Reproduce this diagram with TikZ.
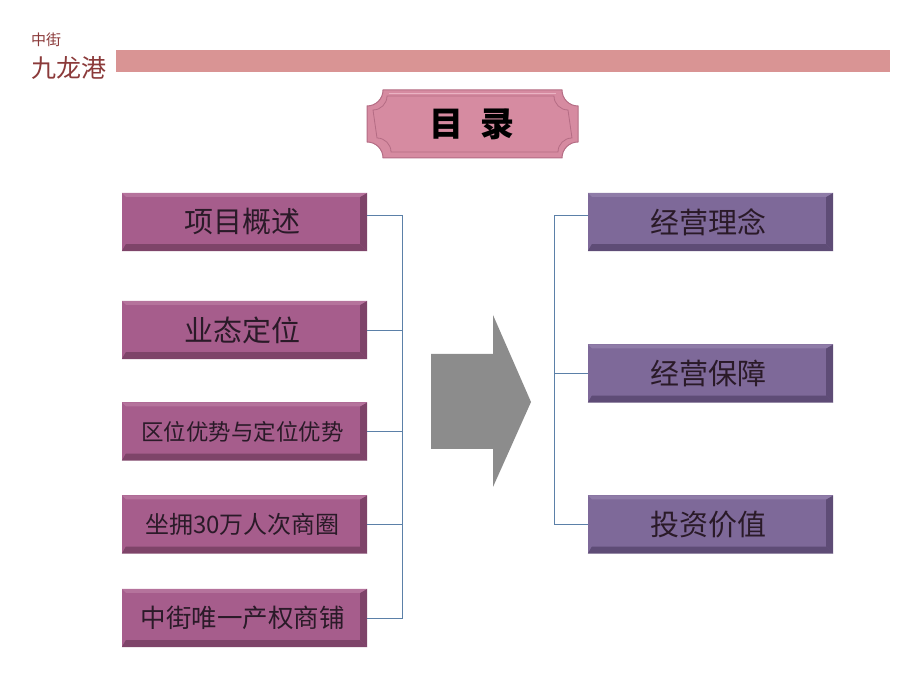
\documentclass[tikz,border=0pt]{standalone}
\usepackage{fontspec}
\setmainfont{Noto Sans CJK SC}
\newfontfamily\cjk{Noto Sans CJK SC}
\definecolor{barpink}{HTML}{D99494}
\definecolor{hdred}{HTML}{8B3A3A}
\definecolor{leftbox}{HTML}{A65D8C}
\definecolor{leftdark}{HTML}{7E4469}
\definecolor{leftlight}{HTML}{B5739C}
\definecolor{rightbox}{HTML}{7E6999}
\definecolor{rightdark}{HTML}{5E4C76}
\definecolor{rightlight}{HTML}{8F7CA8}
\definecolor{boxtext}{HTML}{2A1A28}
\definecolor{connblue}{HTML}{5B80A8}
\definecolor{arrowgray}{HTML}{8C8C8C}
\definecolor{plaque}{HTML}{D68BA1}
\definecolor{plaqueedge}{HTML}{B46C84}
\definecolor{plaquelight}{HTML}{EAB3C3}
\tikzset{
  boxbase/.style={minimum width=245pt, minimum height=58pt, inner sep=0pt, text=boxtext, font=\cjk},
  lbox/.style={boxbase, fill=leftbox},
  rbox/.style={boxbase, fill=rightbox},
  conn/.style={draw=connblue, line width=0.8pt},
  big/.style={font=\cjk\fontsize{29}{29}\selectfont},
}
\newcommand{\bevel}[3]{%
  \fill[#2] (#1.north east) -- ([xshift=-7pt,yshift=-4pt]#1.north east) -- ([xshift=-7pt,yshift=7pt]#1.south east) -- (#1.south east) -- cycle;
  \fill[#2] (#1.south west) -- ([xshift=4pt,yshift=7pt]#1.south west) -- ([xshift=-7pt,yshift=7pt]#1.south east) -- (#1.south east) -- cycle;
  \fill[#3] (#1.north west) -- ([xshift=4pt,yshift=-4pt]#1.north west) -- ([xshift=-7pt,yshift=-4pt]#1.north east) -- (#1.north east) -- cycle;
}
\begin{document}
\begin{tikzpicture}[x=1pt,y=1pt]
\useasboundingbox (0,0) rectangle (920,690);
% header
\node[anchor=west, inner sep=0pt, text=hdred, font=\cjk\fontsize{15}{15}\selectfont] (hd1) at (31,650) {中街};
\node[anchor=west, inner sep=0pt, text=hdred, font=\cjk\fontsize{25}{25}\selectfont] (hd2) at (31,622) {九龙港};
\fill[barpink] (116,618) rectangle (890,640);
% title plaque
\path[fill=plaque, draw=plaqueedge, line width=1pt]
  (383,600) -- (562,600) arc[start angle=180, end angle=270, radius=16]
  -- (578,548) arc[start angle=90, end angle=180, radius=16]
  -- (383,532) arc[start angle=0, end angle=90, radius=16]
  -- (367,584) arc[start angle=270, end angle=360, radius=16] -- cycle;
\path[draw=plaqueedge, line width=0.8pt]
  (391,594) -- (554,594) arc[start angle=180, end angle=270, radius=14]
  -- (572,552) arc[start angle=90, end angle=180, radius=14]
  -- (391,538) arc[start angle=0, end angle=90, radius=14]
  -- (373,580) arc[start angle=270, end angle=360, radius=14] -- cycle;
\path[draw=plaquelight, line width=0.8pt]
  (389,597) -- (556,597);
\node[font=\cjk\bfseries\fontsize{34}{34}\selectfont, text=black, inner sep=0pt] (title) at (472,566) {目\hspace{0.5em}录};
% left boxes
\node[lbox] (L1) at (244.5,468) {};
\node[lbox] (L2) at (244.5,360) {};
\node[lbox] (L3) at (244.5,258.5) {};
\node[lbox] (L4) at (244.5,165.5) {};
\node[lbox] (L5) at (244.5,72) {};
\foreach \n in {L1,L2,L3,L4,L5} {\bevel{\n}{leftdark}{leftlight}}
\node[boxbase, big] (T1) at ([xshift=-2pt]L1) {项目概述};
\node[boxbase, big] (T2) at ([xshift=-2pt]L2) {业态定位};
\node[boxbase, font=\cjk\fontsize{22.5}{22.5}\selectfont] (T3) at ([xshift=-2pt]L3) {区位优势与定位优势};
\node[boxbase, font=\cjk\fontsize{24}{24}\selectfont] (T4) at ([xshift=-2pt]L4) {坐拥30万人次商圈};
\node[boxbase, font=\cjk\fontsize{25.5}{25.5}\selectfont] (T5) at ([xshift=-2pt]L5) {中街唯一产权商铺};
% right boxes
\node[rbox] (R1) at (710.5,468) {};
\node[rbox] (R2) at (710.5,316.5) {};
\node[rbox] (R3) at (710.5,165.5) {};
\foreach \n in {R1,R2,R3} {\bevel{\n}{rightdark}{rightlight}}
\node[boxbase, big] (U1) at ([xshift=-2pt]R1) {经营理念};
\node[boxbase, big] (U2) at ([xshift=-2pt]R2) {经营保障};
\node[boxbase, big] (U3) at ([xshift=-2pt]R3) {投资价值};
% connectors
\coordinate (LV) at (402,0);
\coordinate (RV) at (554,0);
\draw[conn] ([yshift=7pt]L1.east) -| (LV |- L5.east) -- (L5.east);
\draw[conn] (L2.east) -- (L2.east -| LV);
\draw[conn] (L3.east) -- (L3.east -| LV);
\draw[conn] (L4.east) -- (L4.east -| LV);
\draw[conn] ([yshift=7pt]R1.west) -| (RV |- R3.west) -- (R3.west);
\draw[conn] (R2.west) -- (R2.west -| RV);
% big arrow
\fill[arrowgray] (431,336) -- (493,336) -- (493,375) -- (531,288) -- (493,203) -- (493,241) -- (431,241) -- cycle;
\end{tikzpicture}
\end{document}
